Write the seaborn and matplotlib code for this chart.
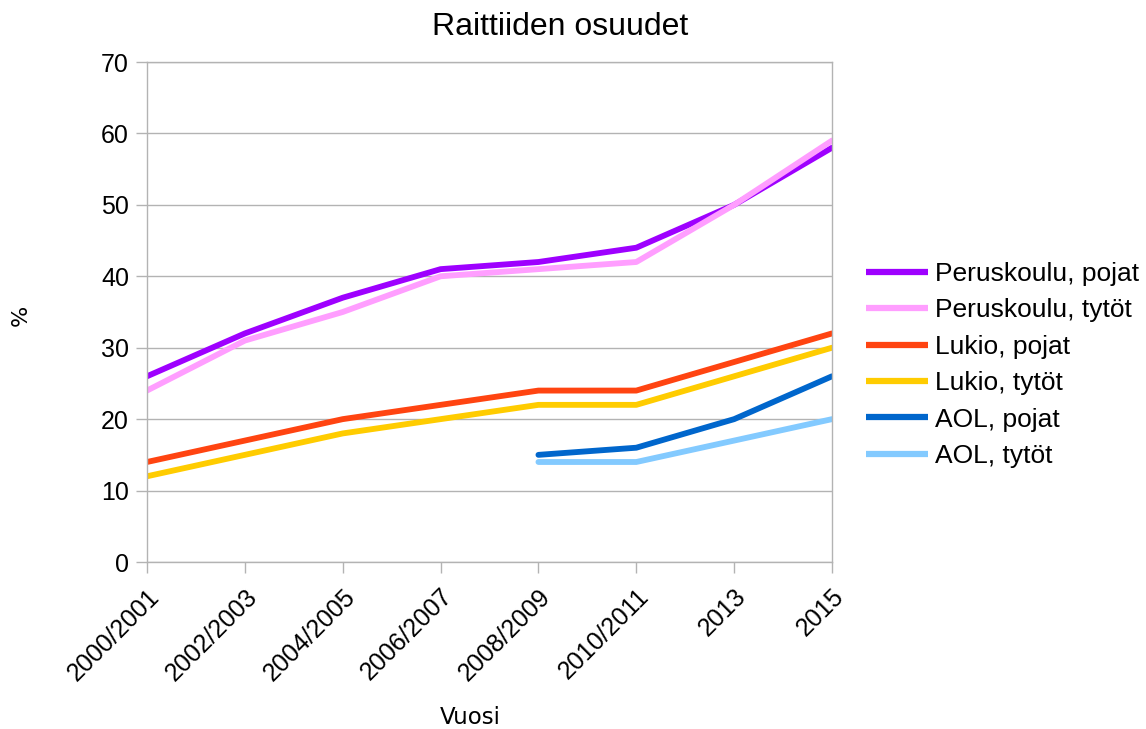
import numpy as np
import pandas as pd
import matplotlib
matplotlib.use("Agg")
import matplotlib.pyplot as plt
import seaborn as sns

years = ["2000/2001", "2002/2003", "2004/2005", "2006/2007", "2008/2009", "2010/2011", "2013", "2015"]
series_names = ["Peruskoulu, pojat", "Peruskoulu, tytöt", "Lukio, pojat", "Lukio, tytöt", "AOL, pojat", "AOL, tytöt"]
peruskoulu_pojat = [26, 32, 37, 41, 42, 44, 50, 58]
peruskoulu_tytot = [24, 31, 35, 40, 41, 42, 50, 59]
lukio_pojat = [14, 17, 20, 22, 24, 24, 28, 32]
lukio_tytot = [12, 15, 18, 20, 22, 22, 26, 30]
aol_pojat = [np.nan, np.nan, np.nan, np.nan, 15, 16, 20, 26]
aol_tytot = [np.nan, np.nan, np.nan, np.nan, 14, 14, 17, 20]
colors = ["#9e00ff", "#ff9eff", "#ff4411", "#ffcc00", "#0066cc", "#83caff"]

all_values = [peruskoulu_pojat, peruskoulu_tytot, lukio_pojat, lukio_tytot, aol_pojat, aol_tytot]
rows = []
for name, vals in zip(series_names, all_values):
    for i, (yr, v) in enumerate(zip(years, vals)):
        rows.append({"idx": i, "Vuosi": yr, "value": v, "series": name})
df = pd.DataFrame(rows).dropna()

sns.set_theme(style="white")
plt.rcParams["font.family"] = ["Liberation Sans", "DejaVu Sans"]
plt.rcParams["text.color"] = "black"
plt.rcParams["xtick.color"] = "#b3b3b3"
plt.rcParams["ytick.color"] = "#b3b3b3"
plt.rcParams["xtick.labelcolor"] = "black"
plt.rcParams["ytick.labelcolor"] = "black"

fig = plt.figure(figsize=(11.46, 7.29), dpi=100)
ax = fig.add_axes([147/1146, 1 - 562/729, (832-147)/1146, (562-62)/729])

sns.lineplot(data=df, x="idx", y="value", hue="series", hue_order=series_names,
             palette=colors, linewidth=4.2, ax=ax, legend=True, sort=True)

ax.set_xlim(0, len(years) - 1)
ax.set_ylim(0, 70)
ax.set_yticks(range(0, 71, 10))
ax.set_xticks(range(len(years)))
ax.set_xticklabels(years, rotation=45, ha="right", rotation_mode="anchor", fontsize=18)
ax.tick_params(axis="y", labelsize=18)
ax.yaxis.grid(True, color="#b3b3b3", linewidth=1)
ax.xaxis.grid(False)
for s in ax.spines.values():
    s.set_color("#b3b3b3")
    s.set_linewidth(1)
ax.tick_params(axis="both", which="major", direction="out", length=8, width=1,
               color="#b3b3b3", labelcolor="black", bottom=True, left=True)
ax.tick_params(axis="y", pad=5)
ax.tick_params(axis="x", pad=8)
ax.set_axisbelow(True)

ax.set_xlabel("Vuosi", fontsize=16.5, family="DejaVu Sans", color="black")
ax.xaxis.set_label_coords((470-147)/685, (562-718)/500)
ax.xaxis.label.set_va("center")
ax.set_ylabel("%", fontsize=16, family="DejaVu Sans", color="black")
ax.yaxis.set_label_coords((21-147)/685, (562-315)/500)
ax.yaxis.label.set_va("center")
ax.yaxis.label.set_ha("center")
fig.text(560/1146, 1 - 35/729, "Raittiiden osuudet", fontsize=23, ha="center", va="baseline", color="black")

handles, labels = ax.get_legend_handles_labels()
ax.get_legend().remove()
leg = fig.legend(handles, labels, loc="center left", bbox_to_anchor=(866/1146, 1 - 365/729),
                 frameon=False, fontsize=19, handlelength=2.35, handletextpad=0.28,
                 labelspacing=0.47, borderaxespad=0, borderpad=0)
for line in leg.get_lines():
    line.set_linewidth(4.5)
    line.set_solid_capstyle("butt")

fig.savefig("out.png", dpi=100)
